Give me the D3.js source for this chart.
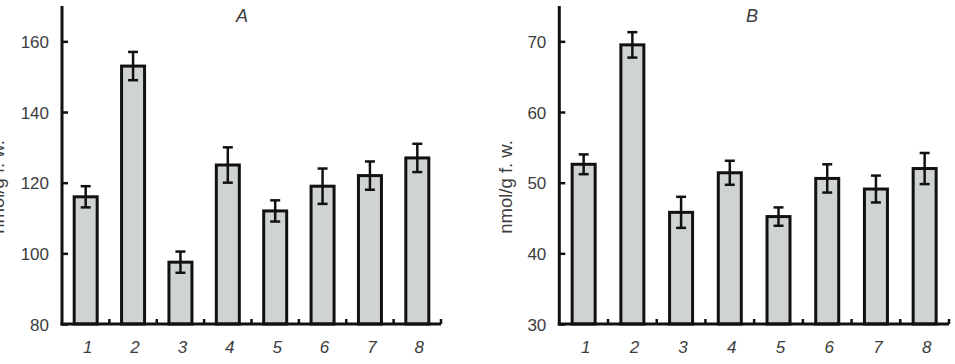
<!DOCTYPE html>
<html>
<head>
<meta charset="utf-8">
<script src="https://cdn.jsdelivr.net/npm/d3@7"></script>
<style>
  html, body { margin: 0; padding: 0; background: #fff; }
  svg { display: block; }
  text { font-family: "Liberation Sans", Arial, sans-serif; fill: #3d3d3d; }
</style>
</head>
<body>
<svg id="chart" width="955" height="364"></svg>
<script>
// ---- data ----
const categories = ["1", "2", "3", "4", "5", "6", "7", "8"];
const valuesA = [116, 153, 97.5, 125, 112, 119, 122, 127];
const errorsA = [3, 4, 3, 5, 3, 5, 4, 4];
const valuesB = [52.6, 69.5, 45.8, 51.4, 45.2, 50.6, 49.1, 52.0];
const errorsB = [1.4, 1.8, 2.2, 1.7, 1.3, 2.0, 1.9, 2.2];
const ticksA = [80, 100, 120, 140, 160];
const ticksB = [30, 40, 50, 60, 70];
const domainA = [80, 170];
const domainB = [30, 75];
const yLabel = "nmol/g f. w.";

const svg = d3.select("#chart");

function panel(opt) {
  const g = svg.append("g");
  const x = d3.scaleBand().domain(categories).range([opt.left, opt.right]).padding(0);
  const y = d3.scaleLinear().domain(opt.domain).range([324, 6]);
  const barW = 23;
  const data = categories.map((c, i) => ({ c, v: opt.values[i], e: opt.errors[i] }));

  // bars
  g.selectAll("rect.bar").data(data).join("rect")
    .attr("class", "bar")
    .attr("x", d => x(d.c) + (x.bandwidth() - barW) / 2)
    .attr("y", d => y(d.v))
    .attr("width", barW)
    .attr("height", d => y(opt.domain[0]) - y(d.v))
    .attr("fill", "#cfd3d3")
    .attr("stroke", "#111")
    .attr("stroke-width", 3);

  // error bars
  const cap = 5;
  const eb = g.selectAll("g.err").data(data).join("g").attr("class", "err")
    .attr("stroke", "#111").attr("stroke-width", 2.5);
  eb.append("line")
    .attr("x1", d => x(d.c) + x.bandwidth() / 2).attr("x2", d => x(d.c) + x.bandwidth() / 2)
    .attr("y1", d => y(d.v + d.e)).attr("y2", d => y(d.v - d.e));
  eb.append("line")
    .attr("x1", d => x(d.c) + x.bandwidth() / 2 - cap).attr("x2", d => x(d.c) + x.bandwidth() / 2 + cap)
    .attr("y1", d => y(d.v + d.e)).attr("y2", d => y(d.v + d.e));
  eb.append("line")
    .attr("x1", d => x(d.c) + x.bandwidth() / 2 - cap).attr("x2", d => x(d.c) + x.bandwidth() / 2 + cap)
    .attr("y1", d => y(d.v - d.e)).attr("y2", d => y(d.v - d.e));

  // y axis (ticks pointing inward)
  const yAxis = d3.axisRight(y).tickValues(opt.ticks).tickSize(6).tickFormat(d3.format("d"));
  const ya = g.append("g").attr("transform", `translate(${opt.left},0)`).call(yAxis);
  ya.select(".domain").remove();
  ya.selectAll(".tick line").attr("stroke", "#111").attr("stroke-width", 2.5);
  ya.selectAll(".tick text").attr("x", -13).attr("text-anchor", "end")
    .style("font-size", "17px").style("font-family", "'Liberation Sans', Arial, sans-serif")
    .attr("fill", "#3d3d3d").attr("dy", "0.36em");
  g.append("line").attr("x1", opt.left).attr("x2", opt.left).attr("y1", 6).attr("y2", 325.5)
    .attr("stroke", "#111").attr("stroke-width", 3);

  // x axis line + upward ticks at band boundaries
  g.append("line").attr("x1", opt.left - 1.5).attr("x2", opt.right).attr("y1", 324).attr("y2", 324)
    .attr("stroke", "#111").attr("stroke-width", 3);
  g.selectAll("line.xt").data(categories).join("line").attr("class", "xt")
    .attr("x1", d => x(d) + x.bandwidth()).attr("x2", d => x(d) + x.bandwidth())
    .attr("y1", 324).attr("y2", 319)
    .attr("stroke", "#111").attr("stroke-width", 2.5);

  // x labels
  g.selectAll("text.xl").data(categories).join("text").attr("class", "xl")
    .attr("x", d => x(d) + x.bandwidth() / 2 + 2)
    .attr("y", 353)
    .attr("text-anchor", "middle")
    .style("font-size", "17px").style("font-style", "italic")
    .text(d => d);

  // title
  g.append("text").attr("x", opt.titleX).attr("y", 21.5).attr("text-anchor", "middle")
    .style("font-size", "18px").style("font-style", "italic").text(opt.title);

  // y label
  g.append("text")
    .attr("transform", `translate(${opt.labelX},187) rotate(-90)`)
    .attr("text-anchor", "middle")
    .style("font-size", "18.5px")
    .text(yLabel);
}

panel({ left: 62, right: 441, domain: domainA, values: valuesA, errors: errorsA, ticks: ticksA, title: "A", titleX: 242, labelX: 4 });
panel({ left: 559.3, right: 949, domain: domainB, values: valuesB, errors: errorsB, ticks: ticksB, title: "B", titleX: 752, labelX: 512 });
</script>
</body>
</html>
